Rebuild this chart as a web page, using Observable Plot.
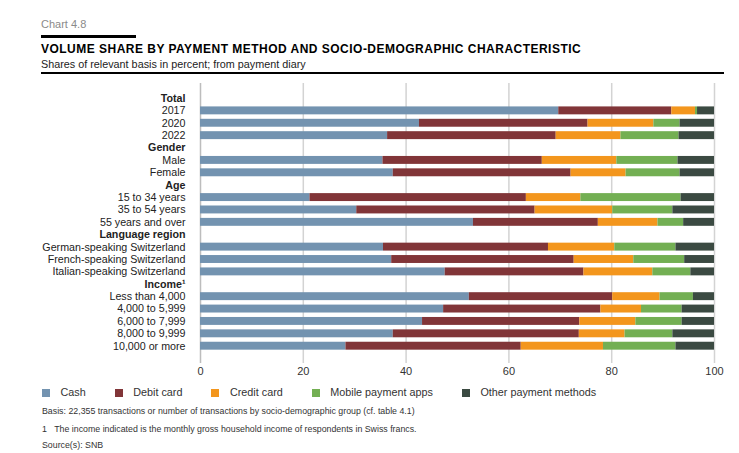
<!DOCTYPE html>
<html>
<head>
<meta charset="utf-8">
<script src="https://cdn.jsdelivr.net/npm/d3@7"></script>
<script src="https://cdn.jsdelivr.net/npm/@observablehq/plot@0.6"></script>
<style>
  body { margin: 0; background: #fff; font-family: "Liberation Sans", Arial, Helvetica, sans-serif; }
  #wrap { position: relative; width: 739px; height: 453px; overflow: hidden; }
  .abs { position: absolute; white-space: nowrap; }
  #chartno { left: 41px; top: 18px; font-size: 11px; line-height: 12px; color: #8a8a8a; }
  #bar { left: 41px; top: 35px; width: 95px; height: 3px; background: #000; }
  #title { left: 41px; top: 42px; font-size: 12px; line-height: 14px; font-weight: bold; letter-spacing: 0.48px; color: #000; }
  #subtitle { left: 41px; top: 58px; font-size: 10.8px; line-height: 13px; color: #222; }
  #rule { left: 41px; top: 72px; width: 683px; height: 2px; background: #000; }
  #plot { left: 0; top: 83px; }
  #legend { left: 42px; top: 386px; font-size: 10.8px; line-height: 13px; color: #333; display: flex; }
  #legend .item { display: flex; align-items: center; margin-right: 29px; }
  #legend .sw { width: 8px; height: 8px; margin-right: 10.5px; }
  .note { left: 42px; font-size: 8.8px; line-height: 10px; color: #333; }
</style>
</head>
<body>
<div id="wrap">
  <div id="chartno" class="abs">Chart 4.8</div>
  <div id="bar" class="abs"></div>
  <div id="title" class="abs">VOLUME SHARE BY PAYMENT METHOD AND SOCIO-DEMOGRAPHIC CHARACTERISTIC</div>
  <div id="subtitle" class="abs">Shares of relevant basis in percent; from payment diary</div>
  <div id="rule" class="abs"></div>
  <div id="plot" class="abs"></div>
  <div id="legend" class="abs"></div>
  <div class="abs note" style="top:406px">Basis: 22,355 transactions or number of transactions by socio-demographic group (cf. table 4.1)</div>
  <div class="abs note" style="top:424px">1&nbsp;&nbsp;&nbsp;The income indicated is the monthly gross household income of respondents in Swiss francs.</div>
  <div class="abs note" style="top:440px">Source(s): SNB</div>
</div>
<script>
// Category axis (headers + rows, top to bottom)
const categories = [
  "Total", "2017", "2020", "2022",
  "Gender", "Male", "Female",
  "Age", "15 to 34 years", "35 to 54 years", "55 years and over",
  "Language region", "German-speaking Switzerland", "French-speaking Switzerland", "Italian-speaking Switzerland",
  "Income¹", "Less than 4,000", "4,000 to 5,999", "6,000 to 7,999", "8,000 to 9,999", "10,000 or more"
];
const headers = ["Total", "Gender", "Age", "Language region", "Income¹"];
const rows = [
  "2017", "2020", "2022",
  "Male", "Female",
  "15 to 34 years", "35 to 54 years", "55 years and over",
  "German-speaking Switzerland", "French-speaking Switzerland", "Italian-speaking Switzerland",
  "Less than 4,000", "4,000 to 5,999", "6,000 to 7,999", "8,000 to 9,999", "10,000 or more"
];
const methods = ["Cash", "Debit card", "Credit card", "Mobile payment apps", "Other payment methods"];
const colors = ["#7393b0", "#813538", "#f3961d", "#73af53", "#3b4a42"];

// Shares in percent, one value per row
const cash   = [69.7, 42.6, 36.4, 35.5, 37.5, 21.3, 30.4, 53.1, 35.6, 37.2, 47.6, 52.3, 47.3, 43.2, 37.5, 28.3];
const debit  = [22.0, 32.8, 32.8, 31.0, 34.6, 42.1, 34.7, 24.3, 32.1, 35.5, 27.0, 27.9, 30.6, 30.6, 36.2, 34.1];
const credit = [ 4.6, 12.8, 12.6, 14.5, 10.7, 10.6, 15.1, 11.6, 12.9, 11.6, 13.4,  9.2,  7.9, 10.9,  8.9, 16.0];
const mobile = [ 0.4,  5.1, 11.3, 11.9, 10.5, 19.5, 11.7,  5.0, 11.9,  9.9,  7.4,  6.5,  7.9,  9.0,  9.3, 14.1];
const other  = [ 3.3,  6.7,  6.9,  7.1,  6.7,  6.5,  8.1,  6.0,  7.5,  5.8,  4.6,  4.1,  6.3,  6.3,  8.1,  7.5];
const xTicks = [0, 20, 40, 60, 80, 100];

const series = [cash, debit, credit, mobile, other];
const table = [];
rows.forEach((r, i) => {
  methods.forEach((m, j) => table.push({group: r, method: m, value: series[j][i]}));
});

const chart = Plot.plot({
  width: 739,
  height: 300,
  marginLeft: 200,
  marginRight: 25,
  marginTop: 0,
  marginBottom: 20,
  style: {fontFamily: "'Liberation Sans', Arial, Helvetica, sans-serif", fontSize: "11px", color: "#222", background: "#fff"},
  x: {domain: [0, 100], label: null},
  y: {domain: categories, label: null, round: false, paddingInner: 0.36, paddingOuter: 0.18, insetTop: 8.8, insetBottom: 11.1},
  color: {domain: methods, range: colors},
  marks: [
    Plot.ruleX(xTicks.slice(1), {stroke: "#d3d3d3", strokeWidth: 1.5}),
    Plot.ruleX([0], {stroke: "#bdbdbd", strokeWidth: 1.5}),
    Plot.barX(table, {y: "group", x: "value", fill: "method"}),
    Plot.axisX({ticks: xTicks, tickSize: 0, tickPadding: 4, fontSize: 11, fill: "#333"}),
    Plot.axisY({ticks: rows, tickSize: 0, tickPadding: 15, fontSize: 10.7}),
    Plot.axisY({ticks: headers, tickSize: 0, tickPadding: 15, fontSize: 10.7, fontWeight: "bold"})
  ]
});
document.getElementById("plot").appendChild(chart);

const legend = document.getElementById("legend");
methods.forEach((m, j) => {
  const it = document.createElement("div");
  it.className = "item";
  const sw = document.createElement("span");
  sw.className = "sw";
  sw.style.background = colors[j];
  const tx = document.createElement("span");
  tx.textContent = m;
  it.appendChild(sw); it.appendChild(tx);
  legend.appendChild(it);
});
</script>
</body>
</html>
